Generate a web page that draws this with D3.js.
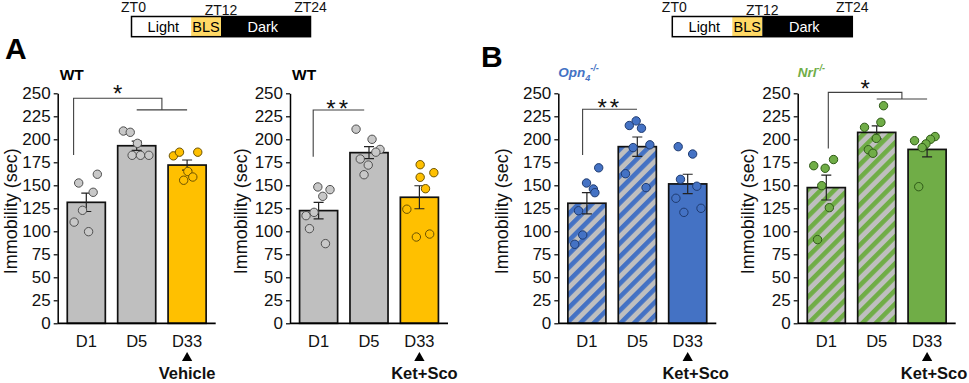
<!DOCTYPE html>
<html><head><meta charset="utf-8">
<script src="https://cdn.jsdelivr.net/npm/d3@7"></script>
<style>
body{margin:0;background:#fff}
svg{display:block}
text{font-family:"Liberation Sans",Arial,Helvetica,sans-serif}
</style>
</head><body>
<svg id="c" width="969" height="383"></svg>
<script>
// ---------------- data ----------------
const categories = ["D1", "D5", "D33"];
const yTicks = [0, 25, 50, 75, 100, 125, 150, 175, 200, 225, 250];
const yLabel = "Immobility (sec)";

// Panel A-left : WT, Vehicle
const wtVehMeans = [131.5, 193, 172];
const wtVehSem = [10, 5, 5.5];
const wtVehPoints = [
  [152.5, 162, 142.4, 122.8, 110, 99.6],
  [209, 207.6, 195.6, 182.6, 182.6, 182.6],
  [182, 186, 186, 165, 155.5, 159]
];
const wtVehJitter = [
  [-0.20, 0.29, 0.18, -0.10, -0.32, 0.06],
  [-0.35, -0.17, 0.02, -0.12, 0.10, 0.32],
  [-0.36, -0.20, 0.28, 0.02, -0.09, 0.15]
];

// Panel A-right : WT, Ket+Sco
const wtKsMeans = [122.5, 185.5, 137];
const wtKsSem = [9, 6.5, 12.5];
const wtKsPoints = [
  [148.2, 145.3, 138, 120.6, 117, 102.9, 86.6],
  [211, 200, 189, 186, 178.6, 172, 161.5],
  [172.4, 158.7, 163.7, 146.3, 124, 93.8, 97]
];
const wtKsJitter = [
  [-0.02, 0.30, 0.11, -0.12, -0.33, -0.24, 0.18],
  [-0.34, 0.08, 0.29, 0.18, -0.23, -0.02, -0.13],
  [0.02, 0.02, 0.38, 0.16, -0.33, -0.08, 0.27]
];

// Panel B-left : Opn4-/-, Ket+Sco
const opnMeans = [130.5, 192, 151.5];
const opnSem = [11.5, 10.5, 10.5];
const opnPoints = [
  [169, 152.5, 146, 142, 122.4, 96, 85.9],
  [220, 215, 212, 194, 191, 162.6, 147.5],
  [192, 184, 156.5, 135.9, 149, 125, 120.6]
];
const opnJitter = [
  [0.31, -0.01, 0.17, 0.21, -0.22, -0.11, -0.32],
  [-0.03, -0.21, 0.11, 0.33, -0.11, -0.31, 0.23],
  [-0.25, 0.13, -0.19, -0.31, 0.24, 0.35, -0.10]
];

// Panel B-right : Nrl-/-, Ket+Sco
const nrlMeans = [147.5, 207.5, 189];
const nrlSem = [13.5, 7, 8];
const nrlPoints = [
  [171.3, 178, 168.5, 149.6, 125.7, 91],
  [236.5, 213, 218.5, 201, 188.7, 184.8],
  [198.5, 203, 200, 195, 191, 148.5]
];
const nrlJitter = [
  [-0.33, 0.19, -0.03, -0.12, 0.08, -0.23],
  [0.18, -0.32, 0.11, -0.01, -0.22, -0.10],
  [-0.33, 0.21, 0.09, -0.03, -0.13, -0.22]
];

// timeline
const phaseNames = ["Light", "BLS", "Dark"];
const phaseStart = [0, 8, 12];
const phaseEnd = [8, 12, 24];
const ztTicks = [0, 12, 24];

// ---------------- styles / layout ----------------
const GRAY = "#BFBFBF", YEL = "#FFC000", BLUE = "#4472C4", GREEN = "#70AD47";
const svg = d3.select("#c");
const defs = svg.append("defs");
function hatch(id, color) {
  const p = defs.append("pattern").attr("id", id)
    .attr("patternUnits", "userSpaceOnUse").attr("width", 9.5).attr("height", 9.5)
    .attr("patternTransform", "rotate(45)");
  p.append("rect").attr("width", 9.5).attr("height", 9.5).attr("fill", GRAY);
  p.append("rect").attr("width", 4.6).attr("height", 9.5).attr("fill", color);
}
hatch("hBlue", BLUE);
hatch("hGreen", GREEN);

const y = d3.scaleLinear().domain([0, 250]).range([323.3, 93.3]);

const panels = [
  { x0: 57.7, title: "WT", titleColor: "#000", means: wtVehMeans, sem: wtVehSem, pts: wtVehPoints, jit: wtVehJitter,
    fills: [GRAY, GRAY, YEL], dotFill: ["#C8C8C8", "#C8C8C8", YEL], dotStroke: ["#505050", "#505050", "#6b5200"],
    treat: "Vehicle", treatDx: 0, ylabX: 10.5,
    br: { lx: -12.7, top: 244.6, bot: 183, group: true, drop: 232, stars: "*", sdy: 3.5 } },
  { x0: 290, title: "WT", titleColor: "#000", means: wtKsMeans, sem: wtKsSem, pts: wtKsPoints, jit: wtKsJitter,
    fills: [GRAY, GRAY, YEL], dotFill: ["#C8C8C8", "#C8C8C8", YEL], dotStroke: ["#505050", "#505050", "#6b5200"],
    treat: "Ket+Sco", treatDx: 5, ylabX: 240.5,
    br: { lx: -5.4, rx: -4.8, top: 231.8, bot: 181, group: false, stars: "**", sdy: 7 } },
  { x0: 558.3, title: "Opn", sub: "4", sup: "-/-", titleColor: BLUE, means: opnMeans, sem: opnSem, pts: opnPoints, jit: opnJitter,
    fills: ["url(#hBlue)", "url(#hBlue)", BLUE], dotFill: [BLUE, BLUE, BLUE], dotStroke: ["#1f3b70", "#1f3b70", "#1f3b70"],
    treat: "Ket+Sco", treatDx: 8, ylabX: 502,
    br: { lx: -4.3, rx: -0.3, top: 232.6, bot: 183, group: false, stars: "**", sdy: 6.5 } },
  { x0: 797.7, title: "Nrl", sup: "-/-", titleColor: GREEN, means: nrlMeans, sem: nrlSem, pts: nrlPoints, jit: nrlJitter,
    fills: ["url(#hGreen)", "url(#hGreen)", GREEN], dotFill: [GREEN, GREEN, GREEN], dotStroke: ["#2f5a17", "#2f5a17", "#2f5a17"],
    treat: "Ket+Sco", treatDx: 7, ylabX: 748.3,
    br: { lx: 2, top: 251, bot: 190, group: true, drop: 243.8, stars: "*", sdy: 4.5 } }
];

panels.forEach(p => {
  const g = svg.append("g");
  const x = d3.scaleBand().domain(categories).range([p.x0, p.x0 + 158])
    .paddingInner(0.245).paddingOuter(0.19);
  const bw = x.bandwidth();
  const cx = d => x(d) + bw / 2;

  // bars
  g.selectAll("rect.bar").data(categories).join("rect").attr("class", "bar")
    .attr("x", d => x(d)).attr("width", bw)
    .attr("y", (d, i) => y(p.means[i])).attr("height", (d, i) => y(0) - y(p.means[i]))
    .attr("fill", (d, i) => p.fills[i]).attr("stroke", "#111").attr("stroke-width", 1.7);

  // error bars
  categories.forEach((d, i) => {
    const hi = y(p.means[i] + p.sem[i]), lo = y(p.means[i] - p.sem[i]);
    const c = cx(d);
    g.append("path")
      .attr("d", `M${c},${hi}V${lo}M${c - 5},${hi}H${c + 5}M${c - 5},${lo}H${c + 5}`)
      .attr("stroke", "#222").attr("stroke-width", 1.2).attr("fill", "none");
  });

  // dots
  categories.forEach((d, i) => {
    g.selectAll(null).data(p.pts[i]).join("circle")
      .attr("cx", (v, j) => cx(d) + p.jit[i][j] * bw)
      .attr("cy", v => y(v)).attr("r", 4.2)
      .attr("fill", p.dotFill[i]).attr("stroke", p.dotStroke[i]).attr("stroke-width", 1);
  });

  // y axis
  const ya = g.append("g").attr("transform", `translate(${p.x0},0)`)
    .call(d3.axisLeft(y).tickValues(yTicks).tickSize(4).tickSizeOuter(0).tickPadding(3));
  ya.select(".domain").attr("stroke", "#000").attr("stroke-width", 1.5);
  ya.selectAll(".tick line").attr("stroke", "#000").attr("stroke-width", 1.2);
  ya.selectAll(".tick text").attr("font-size", 17).attr("fill", "#111")
    .attr("font-family", '"Liberation Sans",Arial,sans-serif');

  // x axis line
  g.append("line").attr("x1", p.x0).attr("x2", p.x0 + 158).attr("y1", y(0)).attr("y2", y(0))
    .attr("stroke", "#000").attr("stroke-width", 1.7);

  // x labels
  g.selectAll("text.xl").data(categories).join("text").attr("class", "xl")
    .attr("x", d => cx(d)).attr("y", 347).attr("text-anchor", "middle")
    .attr("font-size", 16.5).attr("fill", "#111").text(d => d);

  // treatment arrow + label
  const c33 = cx("D33");
  g.append("path").attr("d", d3.symbol(d3.symbolTriangle, 46)())
    .attr("transform", `translate(${c33},${358})`).attr("fill", "#000");
  g.append("text").attr("x", c33 + p.treatDx).attr("y", 379).attr("text-anchor", "middle")
    .attr("font-size", 16.5).attr("font-weight", "bold").attr("fill", "#111").text(p.treat);

  // y label
  g.append("text").attr("transform", `translate(${p.ylabX},${(y(0) + y(250)) / 2 + 3}) rotate(-90)`)
    .attr("text-anchor", "middle").attr("dominant-baseline", "central")
    .attr("font-size", 18).attr("fill", "#111").text(yLabel);

  // title
  const it = !!(p.sub || p.sup);
  const t = g.append("text").attr("x", p.x0 + (it ? 0 : 2)).attr("y", it ? 77 : 80)
    .attr("font-weight", "bold").attr("fill", p.titleColor)
    .attr("font-size", it ? 13.5 : 15.5)
    .attr("font-style", it ? "italic" : "normal");
  t.append("tspan").text(p.title);
  if (p.sub) t.append("tspan").attr("font-size", 9).attr("dy", 4).text(p.sub);
  if (p.sup) t.append("tspan").attr("font-size", 9).attr("dy", p.sub ? -10 : -6).text(p.sup);

  // significance bracket
  const b = p.br;
  const lx = cx("D1") + b.lx;
  let rx, dStr;
  if (b.group) {
    rx = (cx("D5") + cx("D33")) / 2;
    dStr = `M${lx},${y(b.bot)}V${y(b.top)}H${rx}V${y(b.drop)}M${cx("D5")},${y(b.drop)}H${cx("D33")}`;
  } else {
    rx = cx("D5") + b.rx;
    dStr = `M${lx},${y(b.bot)}V${y(b.top)}H${rx}`;
  }
  g.append("path").attr("d", dStr).attr("fill", "none").attr("stroke", "#404040").attr("stroke-width", 1.1);
  g.append("text").attr("x", (lx + rx) / 2).attr("y", y(b.top) + b.sdy).attr("text-anchor", "middle")
    .attr("font-size", 24).attr("fill", "#111").attr("letter-spacing", b.stars.length > 1 ? 3 : 0)
    .text(b.stars);
});

// panel letters
svg.append("text").attr("x", 5).attr("y", 59).attr("font-size", 30).attr("font-weight", "bold").text("A");
svg.append("text").attr("x", 481).attr("y", 67).attr("font-size", 30).attr("font-weight", "bold").text("B");

// timelines
const phaseFill = ["#FFFFFF", "#FFD966", "#000000"];
const phaseText = ["#000", "#000", "#FFF"];
[[131.5, 310.5], [672.3, 852.3]].forEach(([a, bEnd]) => {
  const t = d3.scaleLinear().domain([0, 24]).range([a, bEnd]);
  const g = svg.append("g");
  phaseNames.forEach((n, i) => {
    g.append("rect").attr("x", t(phaseStart[i])).attr("y", 16.5)
      .attr("width", t(phaseEnd[i]) - t(phaseStart[i])).attr("height", 20.2).attr("fill", phaseFill[i]);
    g.append("text").attr("x", (t(phaseStart[i]) + t(phaseEnd[i])) / 2 + (i === 0 ? 2 : (i === 2 ? -3 : 0)))
      .attr("y", 31.5).attr("text-anchor", "middle").attr("font-size", 14.5).attr("fill", phaseText[i]).text(n);
  });
  g.append("rect").attr("x", t(0)).attr("y", 16.5).attr("width", t(24) - t(0)).attr("height", 20.2)
    .attr("fill", "none").attr("stroke", "#000").attr("stroke-width", 1.5);
  ztTicks.forEach((z, i) => {
    g.append("text").attr("x", t(z) + (i === 0 ? 2 : 0)).attr("y", i === 1 ? 14.5 : 11.5).attr("text-anchor", "middle")
      .attr("font-size", 14).attr("fill", "#111").text("ZT" + z);
  });
});
</script>
</body></html>
